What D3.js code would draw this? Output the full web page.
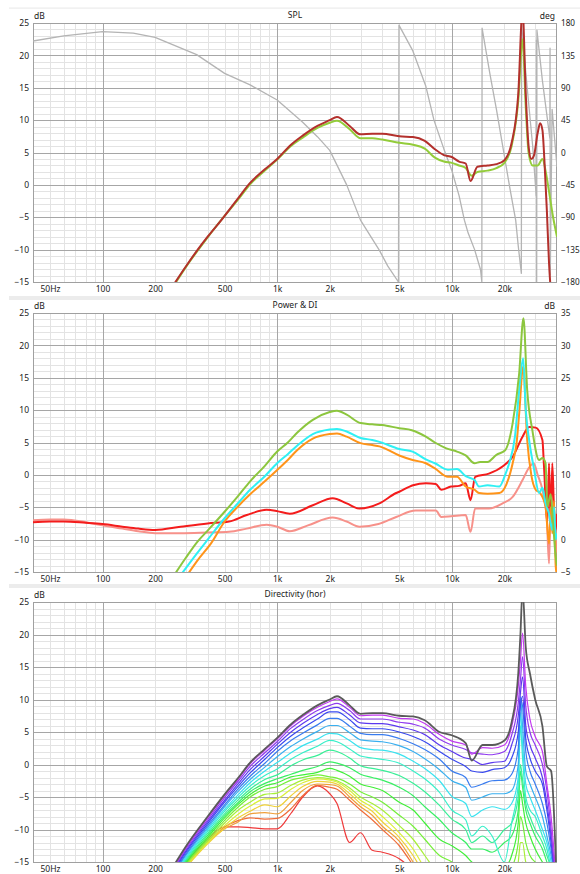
<!DOCTYPE html>
<html>
<head>
<meta charset="utf-8">
<title>SPL / Power &amp; DI / Directivity</title>
<script src="https://cdn.jsdelivr.net/npm/d3@7/dist/d3.min.js"></script>
<style>
  html, body { margin:0; padding:0; background:#ffffff; }
  svg { display:block; }
  text { font-family: "Noto Sans", "DejaVu Sans", sans-serif; fill:#1a1a1a; }
</style>
</head>
<body>
<svg id="chart" width="580" height="874"></svg>
<script>
// ---------------- tick labels ----------------
const xTickValues = [50, 100, 200, 500, 1000, 2000, 5000, 10000, 20000];
const xTickLabels = ["50Hz", "100", "200", "500", "1k", "2k", "5k", "10k", "20k"];
const dbTicks  = [25, 20, 15, 10, 5, 0, -5, -10, -15];
const degTicks = [180, 135, 90, 45, 0, -45, -90, -135, -180];
const diTicks  = [35, 30, 25, 20, 15, 10, 5, 0, -5];
const panelTitles = ["SPL", "Power & DI", "Directivity (hor)"];

// ---------------- directivity frequencies (Hz) ----------------
const dirFreq = [250,300,400,500,600,700,850,1000,1200,1400,1700,2000,2200,2600,3000,3500,4000,5000,6000,7000,8500,10000,12000,13000,15000,17000,20000,22000,24000,24700,25400,26500,28000,30000,33000,35000,37000,40000];

// ---------------- directivity curves (dB), 0 = on axis ----------------
const dir0  = [-16,-12.6,-8.0,-4.6,-2.0,0.3,2.4,4.1,6.2,7.6,9.1,10.0,10.5,9.1,7.8,7.9,7.9,7.5,7.4,6.8,5.0,4.5,3.3,0.6,3.0,3.0,3.7,6.5,14,20,27,18,14,10,5.9,-0.3,-1,-20];
const dir1  = [-16.2,-12.8,-8.2,-4.8,-2.2,0.1,2.2,3.9,6.0,7.4,8.8,9.7,10.1,8.8,7.5,7.6,7.6,7.1,7.0,6.3,4.6,3.6,3.0,1.6,2.6,2.5,3.0,5.8,12,16,20.2,12,7,4.3,2,-3,-8,-20];
const dir2  = [-16.4,-13.0,-8.5,-5.1,-2.5,-0.3,1.8,3.5,5.6,6.9,8.3,9.1,9.4,8.3,7.0,7.0,7.0,6.5,6.2,5.6,3.9,3.0,2.3,1.8,1.6,1.5,2.0,4.5,9.5,13,16.6,9,5,3,0,-4,-10,-20];
const dir3  = [-16.6,-13.3,-8.8,-5.5,-2.9,-0.8,1.3,3.1,5.0,6.3,7.7,8.6,8.8,7.6,6.4,6.3,6.3,5.8,5.3,4.6,3.0,2.0,1.0,0.8,0.0,0.3,0.5,3.0,7.5,11,13.5,6,3,1,-2,-6,-11,-20];
const dir4  = [-16.8,-13.5,-9.1,-5.8,-3.3,-1.3,0.8,2.6,4.4,5.6,7.0,8.1,8.1,6.9,5.6,5.5,5.5,5.0,4.3,3.5,2.0,0.8,-0.3,-1.0,-1.2,-0.8,-0.5,1.0,5.0,9,10.5,4,1,-1,-3,-7,-12,-20];
const dir5  = [-17.0,-13.8,-9.4,-6.2,-3.7,-1.8,0.2,2.0,3.7,4.8,6.1,7.1,7.1,5.9,4.8,4.6,4.6,4.0,3.2,2.3,0.8,-1.0,-2.0,-3.5,-3.0,-2.5,-2.4,-1.5,2.5,10,9.0,2,-1,-3,-6,-9,-13,-20];
const dir6  = [-17.2,-14.0,-9.7,-6.5,-4.1,-2.3,-0.4,1.2,2.8,3.9,5.1,6.0,6.0,4.9,3.8,3.6,3.5,2.9,2.0,0.9,-0.8,-2.5,-3.5,-5.5,-5.0,-4.5,-4.5,-4,0,10.5,6,-1,-3,-5,-8,-11,-14,-20];
const dir7  = [-17.4,-14.3,-10.0,-6.9,-4.6,-2.8,-1.0,0.3,1.8,2.9,3.9,4.8,4.7,3.7,2.6,2.3,2.2,1.6,0.5,-0.6,-2.5,-4.9,-6.0,-8.0,-7.0,-6.5,-6.9,-6,-2,8,3,-3,-5,-7,-10,-12,-15,-20];
const dir8  = [-17.6,-14.5,-10.3,-7.2,-5.0,-3.3,-1.7,-0.7,0.8,1.8,2.8,3.7,3.5,2.4,1.3,1.0,0.8,0.2,-1.0,-2.2,-4.3,-7.0,-8.5,-11,-9.5,-11,-15,-9,-3,6,1,-5,-7,-8,-11,-13,-16,-20];
const dir9  = [-17.8,-14.7,-10.6,-7.6,-5.4,-3.8,-2.3,-1.6,-0.2,0.7,1.4,2.2,2.0,1.0,-0.2,-0.6,-0.9,-1.7,-2.9,-4.2,-6.3,-8.4,-10,-12,-11,-12,-10,-9,-5,0,-2.3,-6,-8,-10,-12,-14,-16,-20];
const dir10 = [-18.0,-14.9,-10.9,-7.9,-5.8,-4.2,-2.9,-2.2,-1.5,-0.9,-0.3,0.4,0.2,-0.5,-1.5,-2.0,-2.4,-3.5,-4.8,-6.5,-8.5,-10.5,-12,-13,-13,-13.5,-12,-11,-7,-1,-3.5,-7,-9,-11,-13,-15,-17,-20];
const dir11 = [-18.2,-15.1,-11.2,-8.2,-6.1,-4.6,-3.3,-2.8,-1.9,-1.6,-1.2,-0.6,-0.9,-1.8,-3.0,-3.5,-4.0,-5.8,-7.0,-9.0,-11.5,-12.5,-14,-15,-16,-17,-16,-14,-9,-4,-6,-9,-11,-13,-15,-16,-18,-20];
const dir12 = [-18.4,-15.3,-11.5,-8.6,-6.5,-5.0,-3.8,-3.4,-2.4,-2.0,-1.6,-1.9,-2.1,-3.0,-4.2,-5.0,-5.8,-7.8,-9.5,-11.5,-14,-15,-17,-18,-18,-18,-18,-16,-12,-8,-9,-12,-14,-15,-16,-17,-18,-20];
const dir13 = [-18.5,-15.5,-11.8,-9.0,-7.0,-5.8,-4.6,-4.4,-3.2,-2.4,-2.0,-2.2,-2.5,-3.6,-5.0,-6.0,-7.0,-9.4,-11.5,-14,-17,-18,-19,-19,-19,-19,-19,-18,-15,-12,-12,-15,-16,-17,-18,-19,-20,-20];
const dir14 = [-18.6,-15.7,-12.0,-9.4,-7.6,-6.4,-5.3,-5.2,-3.8,-2.8,-2.2,-2.4,-2.7,-4.0,-5.5,-6.6,-8.0,-10.5,-13,-16,-19,-20,-20,-20,-20,-20,-20,-20,-18,-16,-15,-18,-19,-20,-20,-20,-20,-20];
const dir15 = [-18.7,-15.9,-12.2,-9.8,-8.2,-7.2,-6.2,-6.5,-4.8,-3.4,-2.6,-2.7,-3.0,-4.5,-6.0,-7.2,-8.8,-11.2,-14,-17,-20,-20,-20,-20,-20,-20,-20,-20,-20,-20,-20,-20,-20,-20,-20,-20,-20,-20];
const dir16 = [-18.6,-15.8,-12.0,-9.9,-8.8,-7.6,-7.4,-7.6,-5.8,-4.0,-3.0,-3.1,-3.3,-5.0,-6.5,-7.8,-9.5,-11.8,-15,-18,-20,-20,-20,-20,-20,-20,-20,-20,-20,-20,-20,-20,-20,-20,-20,-20,-20,-20];
const dir17 = [-18.4,-15.5,-11.8,-9.6,-8.6,-8.2,-8.4,-8.3,-6.8,-4.8,-3.2,-3.5,-3.8,-5.5,-7.0,-8.5,-10,-12.5,-15.5,-18,-20,-20,-20,-20,-20,-20,-20,-20,-20,-20,-20,-20,-20,-20,-20,-20,-20,-20];
const dir18 = [-18.2,-15.2,-11.5,-9.6,-9.6,-9.7,-9.9,-9.9,-7.5,-5.0,-3.3,-4.5,-6.0,-12,-10.5,-13.2,-13.5,-14.5,-16.5,-20,-20,-20,-20,-20,-20,-20,-20,-20,-20,-20,-20,-20,-20,-20,-20,-20,-20,-20];
const dirCurves = [dir0,dir1,dir2,dir3,dir4,dir5,dir6,dir7,dir8,dir9,dir10,dir11,dir12,dir13,dir14,dir15,dir16,dir17,dir18];

// ---------------- SPL panel [Hz, dB] ----------------
const splOnAxis = [[250,-15.8],[300,-12.6],[351,-10],[400,-8],[480,-5.4],[600,-2.0],[700,0.3],[850,2.4],[1000,4.0],[1200,6.2],[1400,7.6],[1700,9.1],[2000,10.0],[2200,10.5],[2600,9.1],[3000,7.8],[3500,7.9],[4000,7.9],[5000,7.5],[6000,7.4],[7000,6.8],[8000,5.5],[9000,4.6],[10000,4.3],[11000,3.6],[12000,3.3],[12800,0.6],[14000,2.8],[16000,3.0],[18000,3.2],[20000,3.8],[22000,6.5],[24000,14],[25400,27],[26500,14],[27500,6],[28500,4],[29500,4.5],[31000,8],[32000,9.5],[33000,8.5],[34000,3],[35000,-4],[36000,-12],[37000,-17]];
const splGreen = [[250,-16],[300,-12.7],[400,-8.1],[500,-4.8],[600,-2.2],[700,0.1],[850,2.2],[1000,3.9],[1200,6.0],[1400,7.3],[1700,8.8],[2000,9.6],[2200,9.9],[2600,8.6],[3000,7.2],[3500,7.2],[4000,7.0],[5000,6.5],[6000,6.2],[7000,5.6],[8000,4.2],[9000,3.6],[10000,3.4],[11000,3.0],[12000,2.6],[13000,1.4],[14000,2.0],[16000,2.2],[18000,2.6],[20000,3.4],[22000,6],[24000,13],[25400,22.5],[26500,12],[27500,5],[29000,3],[31000,3],[33000,4],[34500,2],[36000,-1],[38000,-5],[40000,-8]];

// phase [Hz, deg] (wrapped, right axis)
const phase = [[40,155],[60,162],[100,168],[150,166],[200,160],[346,136],[500,110],[700,94],[1000,73],[1400,42],[1700,22],[2000,3],[2500,-45],[3000,-94],[3850,-136],[4300,-158],[4950,-180],[4980,177],[5960,142],[7100,92],[7900,45],[9000,5],[10000,-25],[11000,-60],[11800,-94],[12400,-112],[13500,-135],[14600,-163],[14850,-180],[14900,173],[16500,110],[18000,60],[20000,-5],[21500,-50],[23200,-94],[24000,-130],[25000,-168],[25100,176],[27000,90],[29000,10],[30400,-60],[30500,156],[30600,-180],[30700,170],[33000,100],[36400,20],[36500,145],[36600,-170],[37500,60],[40000,-20]];

// ---------------- Power & DI panel [Hz, dB] ----------------
const listeningWindow = [[250,-16],[300,-12.8],[350,-10.3],[400,-8.6],[500,-5.7],[600,-3.2],[700,-1.0],[850,1.4],[1000,3.6],[1150,5.0],[1300,6.5],[1600,8.5],[2000,9.7],[2200,9.9],[2500,9.3],[3000,8.0],[3500,7.8],[4000,7.7],[5000,7.2],[5900,6.9],[7100,5.9],[8000,5.0],[9300,4.1],[10700,3.6],[12000,3.0],[13500,1.8],[14500,2.0],[16000,2.0],[18000,3.1],[20200,3.8],[22300,8.0],[24300,15.7],[25700,24.2],[27000,13.1],[28900,6.9],[31600,2.3],[33000,2.6],[34400,1.8],[35200,-4.9],[36800,-3],[38000,-7.5],[39300,-12.6],[40000,-14]];
const earlyReflections = [[280,-15.5],[350,-12],[400,-10],[500,-6.7],[600,-4.3],[700,-2.3],[850,-0.2],[1000,1.8],[1150,3.2],[1300,4.5],[1600,6.3],[2000,7.0],[2200,7.1],[2500,6.7],[3000,5.7],[3500,5.4],[3850,5.1],[5000,4.0],[5960,3.6],[7100,2.4],[8000,1.8],[9500,0.8],[10700,0.9],[12000,-0.2],[13500,-0.8],[14300,-1.8],[16000,-1.6],[18700,-1.8],[20200,0],[21300,1.8],[23000,6],[24300,13.1],[25600,18.0],[26500,10],[27700,5.4],[29500,1],[31600,-2.8],[33000,-2.0],[34400,-4.4],[36000,-6],[37600,-8.5],[38500,-5],[39300,-10],[40000,-9]];
const soundPower = [[305,-15.5],[350,-13.2],[420,-10.5],[500,-7.2],[600,-4.8],[700,-3.0],[850,-1],[1000,0.75],[1150,2.3],[1300,3.8],[1600,5.6],[2000,6.3],[2200,6.4],[2500,5.9],[3000,4.9],[3500,4.6],[3850,4.4],[5000,3.0],[5960,2.3],[7100,1.8],[8000,1.0],[9500,-0.3],[10700,-0.3],[12000,-1.8],[13500,-2.3],[14300,-2.8],[16000,-2.9],[18700,-2.8],[20500,-1.5],[22300,1.8],[23500,5],[24300,9.5],[25600,16.7],[27000,5.4],[28500,0],[30200,-2.3],[32000,-2.8],[34400,-4.9],[36000,-10.6],[36800,-5],[37600,-9],[38500,-4],[39300,-14],[40000,-15.5]];
// DI curves, right axis [Hz, dB]
const soundPowerDI = [[40,2.7],[50,2.8],[60,2.8],[80,2.6],[100,2.4],[130,2.0],[160,1.7],[200,1.5],[280,2.0],[400,2.5],[530,2.8],[670,3.8],[870,4.6],[1000,4.4],[1180,4.0],[1600,5.3],[2080,6.4],[2500,5.6],[2960,4.8],[3850,5.6],[4800,7.2],[5000,7.4],[6000,8.4],[7100,8.7],[8100,8.6],[8700,7.7],[9900,8.2],[11000,8.3],[12000,8.7],[12800,6.1],[13600,9.7],[16300,10.2],[19500,11.3],[22300,12.8],[25400,15.9],[27700,17.4],[30200,17.3],[33000,15.4],[33700,11.3],[35200,2.5],[36000,11.8],[36800,2.5],[37600,11.8],[38400,5.1],[39300,1.5],[40000,4]];
const earlyReflDI = [[40,3.0],[50,3.1],[60,3.1],[80,2.7],[100,2.2],[130,1.7],[160,1.3],[200,1.0],[280,1.0],[400,1.1],[530,1.2],[670,1.7],[870,2.3],[1000,2.0],[1180,1.3],[1500,2.2],[2080,3.4],[2500,2.8],[2960,2.0],[3800,2.4],[4800,3.5],[6200,4.5],[8100,4.5],[8700,3.5],[9900,3.6],[12000,3.8],[12800,1.2],[13600,4.8],[16300,4.8],[19500,5.6],[22300,6.6],[25400,9.2],[27500,11],[29400,11.8],[31000,10],[33000,7.7],[35000,3],[36000,-3.7],[36800,5.1],[38400,2.5],[39300,1],[40000,-2]];

// ---------------- drawing ----------------
const svg = d3.select("#chart");
const X0 = 33, X1 = 557;
const x = d3.scaleLog().domain([40, 40000]).range([X0, X1]);
const panels = [{top:23, bottom:282}, {top:313, bottom:572}, {top:602, bottom:862}];

// separator bands
[[7.5,1.2],[296,4],[584,4]].forEach(([yb,h]) =>
  svg.append("rect").attr("x", 9).attr("y", yb).attr("width", 571).attr("height", h).attr("fill", "#ececec"));

const minorX = [], majorX = [100, 1000, 10000];
for (let d = 10; d <= 10000; d *= 10) for (let k = 2; k < 10; k++) { const f = k * d; if (f > 40 && f < 40000) minorX.push(f); }
const minorY = [], majorY = [-10, -5, 0, 5, 10, 15, 20];
for (let v = -14; v < 25; v++) if (v % 5 !== 0) minorY.push(v);

function setupPanel(i) {
  const p = panels[i];
  const y = d3.scaleLinear().domain([-15, 25]).range([p.bottom, p.top]);
  const g = svg.append("g");
  const px = v => Math.round(x(v)) + 0.5, py = v => Math.round(y(v)) + 0.5;
  g.selectAll(null).data(minorX).enter().append("line")
    .attr("x1", px).attr("x2", px).attr("y1", p.top).attr("y2", p.bottom).attr("stroke", "#e3e3e3");
  g.selectAll(null).data(minorY).enter().append("line")
    .attr("y1", py).attr("y2", py).attr("x1", X0).attr("x2", X1).attr("stroke", "#e3e3e3");
  g.selectAll(null).data(majorX).enter().append("line")
    .attr("x1", px).attr("x2", px).attr("y1", p.top).attr("y2", p.bottom).attr("stroke", "#a6a6a6");
  g.selectAll(null).data(majorY).enter().append("line")
    .attr("y1", py).attr("y2", py).attr("x1", X0).attr("x2", X1).attr("stroke", "#a6a6a6");
  g.append("rect").attr("x", X0 + 0.5).attr("y", Math.round(p.top) + 0.5)
    .attr("width", X1 - X0 - 1).attr("height", Math.round(p.bottom - p.top))
    .attr("fill", "none").attr("stroke", "#a0a0a0");

  // axes
  const ax = svg.append("g").attr("transform", `translate(0,${p.bottom})`)
    .call(d3.axisBottom(x).tickValues(xTickValues).tickFormat((d, k) => xTickLabels[k]).tickSize(0).tickPadding(4));
  const ay = svg.append("g").attr("transform", `translate(${X0 - 1},0)`)
    .call(d3.axisLeft(y).tickValues(dbTicks).tickFormat(d3.format("d")).tickSize(0).tickPadding(3));
  [ax, ay].forEach(a => { a.select(".domain").remove(); a.selectAll("text").attr("font-size", 8.5).attr("fill", "#1a1a1a"); });

  svg.append("text").attr("x", (X0 + X1) / 2).attr("y", p.top - 5).attr("text-anchor", "middle")
    .attr("font-size", 8.5).text(panelTitles[i]);
  svg.append("text").attr("x", X0 + 1).attr("y", p.top - 4).attr("font-size", 8.5).text("dB");

  const clipId = "clip" + i;
  svg.append("clipPath").attr("id", clipId).append("rect")
    .attr("x", X0).attr("y", p.top).attr("width", X1 - X0).attr("height", p.bottom - p.top);
  const plot = svg.append("g").attr("clip-path", `url(#${clipId})`);
  return {y, plot, p};
}

function rightAxis(P, domain, ticks, unit) {
  const yr = d3.scaleLinear().domain(domain).range([P.p.bottom, P.p.top]);
  const a = svg.append("g").attr("transform", `translate(${X1},0)`)
    .call(d3.axisRight(yr).tickValues(ticks).tickFormat(d3.format("d")).tickSize(0).tickPadding(4));
  a.select(".domain").remove();
  a.selectAll("text").attr("font-size", 8.2).attr("fill", "#1a1a1a");
  svg.append("text").attr("x", X1 - 2).attr("y", P.p.top - 4).attr("text-anchor", "end").attr("font-size", 8.5).text(unit);
  return yr;
}

function drawPairs(plot, data, yScale, color, width, curve) {
  plot.append("path").datum(data)
    .attr("d", d3.line().x(d => x(d[0])).y(d => yScale(d[1])).curve(curve || d3.curveMonotoneX))
    .attr("fill", "none").attr("stroke", color).attr("stroke-width", width).attr("stroke-linejoin", "round");
}

// Panel 1: SPL
const P1 = setupPanel(0);
const yDeg = rightAxis(P1, [-180, 180], degTicks, "deg");
drawPairs(P1.plot, phase, yDeg, "#b4b4b4", 1.3, d3.curveLinear);
drawPairs(P1.plot, splGreen, P1.y, "#93cc3a", 2);
drawPairs(P1.plot, splOnAxis, P1.y, "#b3302c", 2);

// Panel 2: Power & DI
const P2 = setupPanel(1);
const yDI = rightAxis(P2, [-5, 35], diTicks, "dB");
drawPairs(P2.plot, earlyReflDI, yDI, "#f7918a", 2);
drawPairs(P2.plot, soundPowerDI, yDI, "#f41c1c", 2);
drawPairs(P2.plot, soundPower, P2.y, "#ff9419", 2);
drawPairs(P2.plot, earlyReflections, P2.y, "#2ff0f4", 2);
drawPairs(P2.plot, listeningWindow, P2.y, "#8cc63e", 2);

// Panel 3: Directivity
const P3 = setupPanel(2);
const nC = dirCurves.length;
for (let i = nC - 1; i >= 0; i--) {
  const color = i === 0 ? "#5a5a5a" : d3.hsl(285 - (i - 1) * (285 / (nC - 2)), 0.85, 0.58).formatHex();
  drawPairs(P3.plot, dirFreq.map((f, k) => [f, dirCurves[i][k]]), P3.y, color, i === 0 ? 1.8 : 1.2);
}
</script>
</body>
</html>
